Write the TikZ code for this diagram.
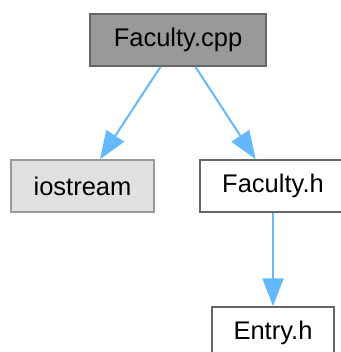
\documentclass[tikz,border=0pt]{standalone}
\usepackage{fontspec}
\setmainfont{Liberation Sans}
\usepackage{xcolor}
\usetikzlibrary{arrows.meta, positioning}
\definecolor{edgeblue}{HTML}{63B8FF}
\definecolor{rootfill}{HTML}{999999}
\definecolor{rootline}{HTML}{666666}
\definecolor{sysfill}{HTML}{E0E0E0}
\definecolor{sysline}{HTML}{999999}
\tikzset{
  filebox/.style={draw=rootline, line width=1.5pt, fill=white, minimum height=52pt, inner sep=0pt},
  rootbox/.style={filebox, fill=rootfill},
  sysbox/.style={filebox, draw=sysline, fill=sysfill},
  incl/.style={-{Triangle[length=28pt, width=21pt]}, line width=2pt, edgeblue},
  every node/.style={font=\fontsize{25.5}{30}\selectfont}
}

\begin{document}
\begin{tikzpicture}[x=1pt, y=-1pt]
    \useasboundingbox (0,0) rectangle (340,352);
    \node[rootbox, minimum width=176pt] (cpp) at (178,40) {Faculty.cpp};
    \node[sysbox, minimum width=143pt] (iostream) at (82.5,186) {iostream};
    \node[filebox, minimum width=146pt] (facultyh) at (273,186) {Faculty.h};
    \node[filebox, minimum width=122pt] (entryh) at (273,333) {Entry.h};

    \draw[incl] (cpp) -- (iostream);
    \draw[incl] (cpp) -- (facultyh);
    \draw[incl] (facultyh) -- (entryh);
\end{tikzpicture}
\end{document}
